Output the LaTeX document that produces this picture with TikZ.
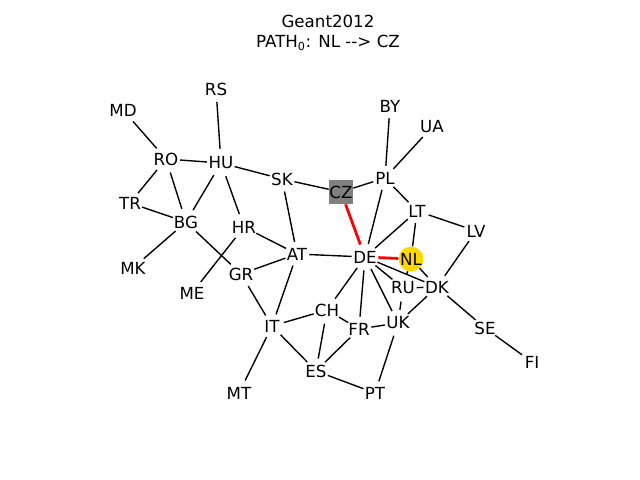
\documentclass[tikz,border=0pt]{standalone}
\usepackage{fontspec}
\setmainfont{DejaVu Sans}
\usepackage{xcolor}

\definecolor{pathgold}{HTML}{FFD700}
\definecolor{pathgray}{HTML}{808080}

\tikzset{
  vertex/.style={circle, minimum size=17.3pt, inner sep=0pt,
    font=\fontsize{12}{14}\selectfont},
  srcvertex/.style={vertex, fill=pathgold},
  dstvertex/.style={vertex, rectangle, minimum size=17.3pt, fill=pathgray},
  link/.style={black, line width=1pt},
  pathlink/.style={red, line width=2pt},
}

\begin{document}
\begin{tikzpicture}[x=0.72pt, y=-0.72pt]
  \useasboundingbox (0,0) rectangle (640,480);

  % Title
  \node[font=\fontsize{12}{14}\selectfont] (title) at (328,21) {Geant2012};
  \node[font=\fontsize{12}{14}\selectfont] (subtitle) at (328,43) {PATH\textsubscript{0}: NL -{}-> CZ};

  % Nodes
  \foreach \name/\x/\y in {
    MD/123/110, RS/216/89, RO/166/159, HU/221/163, TR/130/203,
    BG/186/222, MK/133/268, HR/244/227, ME/192/293, GR/241/274,
    SK/282/179, AT/297/254, PL/385/178, BY/390/106, UA/432/127,
    LT/417/211, LV/476/231, DE/365/257, RU/403/288, DK/437/287,
    SE/485/328, FI/532/362, CH/327/310, FR/359/329, UK/398/323,
    IT/272/326, ES/316/371, PT/375/393, MT/239/393}
  {
    \node[vertex] (\name) at (\x,\y) {\name};
  }
  \node[srcvertex] (NL) at (411,259) {NL};
  \node[dstvertex] (CZ) at (341,192) {CZ};

  % Links
  \foreach \a/\b in {
    MD/RO, RS/HU, RO/HU, RO/TR, RO/BG, HU/BG, HU/SK, HU/HR, TR/BG,
    BG/MK, BG/GR, HR/AT, HR/ME, GR/AT, GR/IT, SK/AT, SK/CZ, AT/IT,
    AT/DE, CZ/PL, PL/BY, PL/UA, PL/LT, PL/DE, LT/DE, LT/LV, LT/NL,
    DE/DK, DE/RU, DE/CH, DE/FR, DE/UK, NL/DK, NL/RU, RU/DK, RU/UK,
    DK/LV, DK/UK, DK/SE, SE/FI, CH/IT, CH/FR, CH/ES, FR/UK, FR/ES,
    UK/PT, IT/ES, IT/MT, ES/PT}
  {
    \draw[link] (\a) -- (\b);
  }

  % Path NL -> DE -> CZ
  \draw[pathlink] (NL) -- (DE);
  \draw[pathlink] (DE) -- (CZ);
\end{tikzpicture}
\end{document}
